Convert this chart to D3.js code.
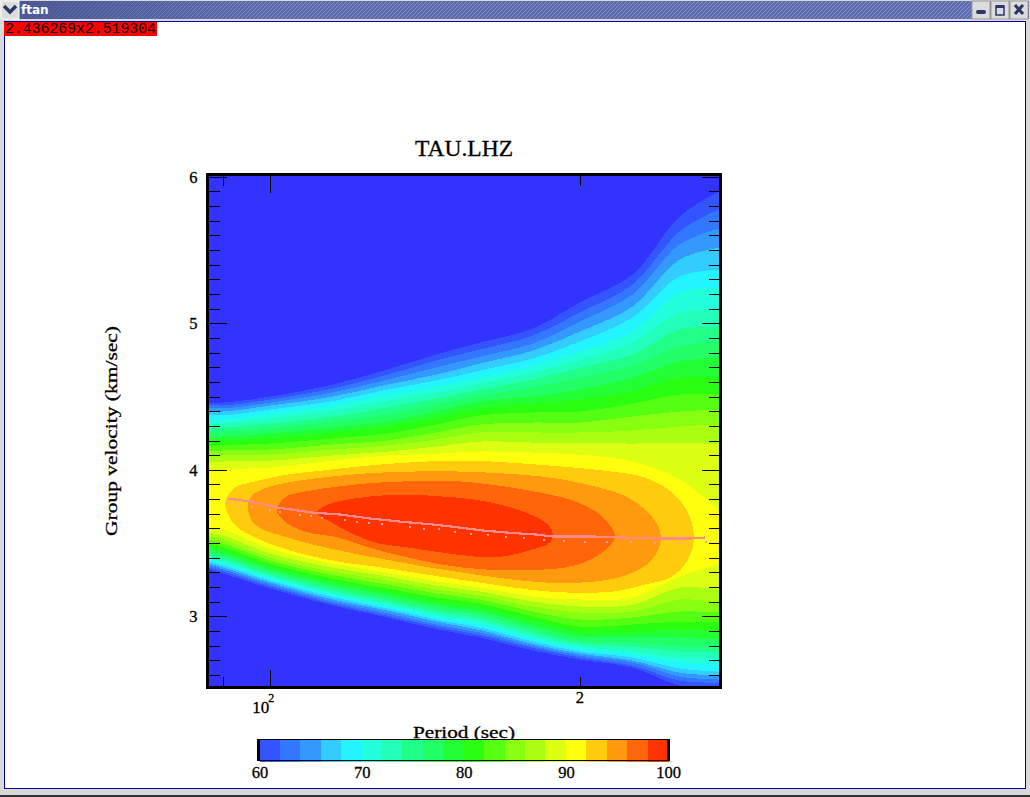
<!DOCTYPE html>
<html><head><meta charset="utf-8">
<style>html,body{margin:0;padding:0;background:#fff;overflow:hidden}svg{display:block}
text{font-family:"Liberation Serif",serif;fill:#000}</style>
<script src="https://cdn.jsdelivr.net/npm/d3@7"></script></head><body>
<script>
const titleText="TAU.LHZ", xLabel="Period (sec)", yLabel="Group velocity (km/sec)", windowTitle="ftan", readout="2.436269x2.519304";
const xDomain=[87.2,273], yDomain=[2.519304,6.0];
const xMinorTicks=[90,200], xMajorTicks=[100];
const yMajorTicks=[3,4,5,6];
const yMinorTicks=[2.6,2.7,2.8,2.9,3.1,3.2,3.3,3.4,3.5,3.6,3.7,3.8,3.9,4.1,4.2,4.3,4.4,4.5,4.6,4.7,4.8,4.9,5.1,5.2,5.3,5.4,5.5,5.6,5.7,5.8,5.9];
const levels=[60,62,64,66,68,70,72,74,76,78,80,82,84,86,88,90,92,94,96,98];
const levelColors=["#3355ff","#3377ff","#3399ff","#33ccff","#22f5ff","#22ffdd","#22ffbb","#22ff88","#22ff66","#22ff33","#2aff11","#55ff11","#88ff11","#aaff11","#ddff11","#ffff0d","#ffcc0d","#ff990d","#ff660a","#ff3300"];
const belowColor="#3333ff";
const colorbarTicks=[60,70,80,90,100];
// Contour columns: one row per period, one value per level 60..90
const columnPeriods=[87,90,100,115,130,145,160,180,200,225,250,273];
const upperEdges=[
[4.459,4.446,4.425,4.405,4.377,4.343,4.316,4.289,4.261,4.227,4.193,4.159,4.125,4.091,4.050,3.988],
[4.459,4.439,4.419,4.398,4.371,4.343,4.316,4.289,4.261,4.227,4.200,4.166,4.132,4.098,4.057,4.002],
[4.500,4.480,4.459,4.439,4.412,4.384,4.350,4.316,4.282,4.248,4.214,4.180,4.139,4.104,4.063,4.016],
[4.582,4.555,4.528,4.500,4.469,4.439,4.405,4.364,4.330,4.289,4.255,4.214,4.173,4.139,4.098,4.063],
[4.685,4.650,4.616,4.582,4.548,4.514,4.473,4.425,4.377,4.330,4.296,4.248,4.200,4.166,4.125,4.098],
[4.787,4.746,4.698,4.650,4.610,4.569,4.528,4.487,4.446,4.398,4.357,4.309,4.255,4.207,4.159,4.111],
[4.869,4.821,4.773,4.726,4.678,4.630,4.589,4.548,4.507,4.466,4.418,4.371,4.309,4.255,4.193,4.125],
[4.965,4.917,4.862,4.814,4.760,4.712,4.664,4.616,4.562,4.500,4.452,4.391,4.323,4.255,4.186,4.118],
[5.142,5.074,5.012,4.944,4.876,4.807,4.753,4.698,4.630,4.548,4.480,4.398,4.323,4.255,4.186,4.104],
[5.333,5.265,5.197,5.115,5.040,4.944,4.869,4.787,4.712,4.630,4.534,4.452,4.364,4.268,4.179,4.057],
[5.729,5.627,5.538,5.435,5.319,5.210,5.074,4.958,4.842,4.739,4.630,4.514,4.398,4.296,4.186,3.934],
[5.900,5.777,5.647,5.517,5.367,5.244,5.094,4.971,4.876,4.767,4.630,4.514,4.412,4.309,4.173,3.729]];
const lowerEdges=[
[3.320,3.333,3.347,3.360,3.374,3.388,3.401,3.415,3.432,3.452,3.476,3.500,3.524,3.548,3.572,3.606],
[3.292,3.306,3.320,3.333,3.347,3.360,3.374,3.391,3.408,3.429,3.449,3.473,3.497,3.524,3.552,3.593],
[3.190,3.204,3.217,3.231,3.245,3.258,3.272,3.285,3.302,3.320,3.340,3.360,3.381,3.401,3.429,3.463],
[3.074,3.087,3.101,3.115,3.132,3.145,3.159,3.176,3.197,3.217,3.238,3.258,3.282,3.306,3.333,3.360],
[2.992,3.005,3.022,3.040,3.053,3.070,3.084,3.101,3.121,3.145,3.169,3.190,3.217,3.244,3.272,3.299],
[2.913,2.930,2.944,2.964,2.978,2.995,3.012,3.033,3.053,3.077,3.101,3.128,3.156,3.183,3.210,3.238],
[2.855,2.872,2.889,2.906,2.923,2.944,2.964,2.985,3.009,3.033,3.060,3.087,3.115,3.142,3.169,3.197],
[2.767,2.784,2.797,2.811,2.828,2.845,2.862,2.886,2.910,2.937,2.968,2.999,3.033,3.067,3.101,3.135],
[2.705,2.719,2.732,2.746,2.760,2.780,2.794,2.815,2.835,2.862,2.896,2.930,2.978,3.026,3.067,3.115],
[2.650,2.664,2.685,2.698,2.719,2.739,2.760,2.794,2.821,2.862,2.896,2.944,2.992,3.033,3.080,3.128],
[2.527,2.561,2.589,2.616,2.644,2.685,2.719,2.760,2.801,2.855,2.910,2.964,3.033,3.115,3.196,3.272],
[2.500,2.548,2.569,2.596,2.623,2.671,2.719,2.753,2.801,2.842,2.896,2.958,3.026,3.094,3.183,3.354]];
// Closed contours 92..98 as period / velocity rings
const ring92P=[90.4,92.4,96.6,104.0,112.3,127.8,153.6,187.0,214.8,231.4,245.8,254.7,258.1,254.7,245.8,231.4,214.8,187.0,152.9,126.4,116.4,108.1,100.4,93.0,91.0];
const ring92V=[3.777,3.879,3.920,3.968,3.995,4.036,4.063,4.029,3.988,3.947,3.845,3.708,3.538,3.388,3.272,3.217,3.169,3.169,3.251,3.340,3.374,3.422,3.490,3.606,3.695];
const ring94P=[95.1,95.6,98.1,104.0,112.3,127.8,153.6,187.0,206.8,222.7,235.0,239.8,235.0,222.7,206.8,184.9,153.6,127.8,112.3,104.0,96.6];
const ring94V=[3.749,3.811,3.866,3.913,3.947,3.981,3.988,3.947,3.886,3.811,3.681,3.538,3.388,3.285,3.238,3.231,3.299,3.395,3.476,3.538,3.627];
const ring96P=[101.5,103.3,108.1,116.4,127.8,153.6,187.0,199.1,210.2,216.3,210.2,199.1,184.9,153.6,127.8,116.4,108.1,103.3];
const ring96V=[3.729,3.811,3.852,3.886,3.913,3.920,3.831,3.777,3.681,3.545,3.436,3.354,3.320,3.333,3.449,3.538,3.579,3.647];
const ring98P=[111.0,113.8,119.0,127.8,136.1,146.9,158.1,170.2,180.9,187.0,188.2,187.0,176.8,168.0,158.1,146.9,136.1,126.4,119.0,114.8];
const ring98V=[3.708,3.763,3.797,3.824,3.831,3.818,3.797,3.749,3.681,3.613,3.558,3.504,3.442,3.408,3.408,3.436,3.470,3.504,3.579,3.640];
// Measured dispersion curve and phase points
const curvePeriods=[91.0,95.6,101.5,110.0,116.9,125.0,133.7,143.9,152.9,161.0,169.8,181.7,188.2,205.9,220.2,243.0,255.8,264.6];
const curveVelocity=[3.804,3.784,3.743,3.708,3.695,3.668,3.647,3.627,3.606,3.586,3.572,3.558,3.545,3.545,3.538,3.531,3.531,3.538];
const dotPeriods=[91.0,92.6,96.0,99.9,102.2,106.9,109.5,112.3,118.2,121.4,124.7,128.4,136.7,141.1,145.9,151.2,156.7,162.8,169.5,176.5,184.5,193.0,202.3,212.5,224.2,236.5,250.1,265.2];
const dotVelocity=[3.777,3.770,3.749,3.729,3.715,3.695,3.688,3.674,3.661,3.647,3.640,3.627,3.613,3.599,3.593,3.579,3.565,3.558,3.545,3.538,3.524,3.517,3.510,3.510,3.510,3.504,3.504,3.510];

const W=1030,H=797;
const svg=d3.select("body").append("svg").attr("width",W).attr("height",H);

/* window chrome */
const defs=svg.append("defs");
const pat=defs.append("pattern").attr("id","hatch").attr("width",4).attr("height",4).attr("patternUnits","userSpaceOnUse");
pat.append("rect").attr("width",4).attr("height",4).attr("fill","#5c6bae");
pat.append("path").attr("d","M-1,1L1,-1M0,4L4,0M3,5L5,3").attr("stroke","#8b97c8").attr("stroke-width",1);
const grad=defs.append("linearGradient").attr("id","fade");
grad.append("stop").attr("offset",0).attr("stop-color","#46558f").attr("stop-opacity",.9);
grad.append("stop").attr("offset",.25).attr("stop-color","#46558f").attr("stop-opacity",.1);
grad.append("stop").attr("offset",1).attr("stop-color","#46558f").attr("stop-opacity",0);
svg.append("rect").attr("width",W).attr("height",H).attr("fill","#d9d9d9");
svg.append("rect").attr("x",1).attr("y",1).attr("width",1028).attr("height",18).attr("fill","url(#hatch)");
svg.append("rect").attr("x",1).attr("y",1).attr("width",1028).attr("height",18).attr("fill","url(#fade)");
svg.append("rect").attr("x",4.5).attr("y",21.5).attr("width",1021).attr("height",767).attr("fill","#fff").attr("stroke","#0000a0");
svg.append("rect").attr("x",0).attr("y",795).attr("width",W).attr("height",2).attr("fill","#333");
svg.append("rect").attr("x",1).attr("y",1).attr("width",18).attr("height",18).attr("fill","#dcdcdc").attr("stroke","#fff");
svg.append("path").attr("d","M4,6L10,12L16,6").attr("fill","none").attr("stroke","#2b3566").attr("stroke-width",3.4);
svg.append("text").attr("x",21).attr("y",14).text(windowTitle).style("font-family","'DejaVu Sans',sans-serif").style("font-weight","bold").style("font-size","12px").style("fill","#fff");
[972,991,1010].forEach(x=>svg.append("rect").attr("x",x).attr("y",1).attr("width",18).attr("height",18).attr("fill","#dcdcdc").attr("stroke","#999"));
svg.append("rect").attr("x",976).attr("y",10).attr("width",10).attr("height",4).attr("rx",2).attr("fill","#2b3566");
svg.append("rect").attr("x",996).attr("y",6).attr("width",8).attr("height",9).attr("fill","none").attr("stroke","#2b3566").attr("stroke-width",1.5);
svg.append("rect").attr("x",996).attr("y",5).attr("width",8).attr("height",3).attr("fill","#2b3566");
svg.append("path").attr("d","M1015,5L1023,14M1023,5L1015,14").attr("stroke","#2b3566").attr("stroke-width",3);

svg.append("rect").attr("x",4).attr("y",22).attr("width",153).attr("height",14).attr("fill","#ff0000");
svg.append("text").attr("x",5).attr("y",33).attr("textLength",151).attr("lengthAdjust","spacingAndGlyphs").text(readout).style("font-family","'Liberation Mono',monospace").style("font-size","15px");

/* plot */
const L=209,R=719,T=176.8,B=686.8;
const x=d3.scaleLog().domain(xDomain).range([L,R]);
const y=d3.scaleLinear().domain(yDomain).range([B,T]);
defs.append("clipPath").attr("id","plotClip").append("rect").attr("x",L-1).attr("y",T-2).attr("width",R-L+2).attr("height",B-T+2);
const plot=svg.append("g").attr("clip-path","url(#plotClip)").attr("shape-rendering","crispEdges");
plot.append("rect").attr("x",L-1).attr("y",T-2).attr("width",R-L+2).attr("height",B-T+2).attr("fill",belowColor);

const area=d3.area().curve(d3.curveCatmullRom.alpha(0.5));
d3.range(16).forEach(k=>{
  const row=columnPeriods.map((p,i)=>({p,u:upperEdges[i][k],l:lowerEdges[i][k]}));
  plot.append("path").attr("fill",levelColors[k])
    .attr("d",area.x(d=>x(d.p)).y0(d=>y(d.l)).y1(d=>y(d.u))(row));
});
const ring=d3.line().curve(d3.curveCatmullRomClosed.alpha(0.5)).x(d=>x(d[0])).y(d=>y(d[1]));
[[ring92P,ring92V],[ring94P,ring94V],[ring96P,ring96V],[ring98P,ring98V]].forEach(([ps,vs],i)=>{
  plot.append("path").attr("fill",levelColors[16+i]).attr("d",ring(ps.map((p,j)=>[p,vs[j]])));
});
plot.append("path").attr("fill","none").attr("stroke","#ff8a8a").attr("stroke-width",2.2)
  .attr("d",d3.line().x((d,i)=>x(d)).y((d,i)=>y(curveVelocity[i]))(curvePeriods));
plot.selectAll("rect.dot").data(dotPeriods).join("rect").attr("class","dot")
  .attr("x",d=>Math.round(x(d))-1).attr("y",(d,i)=>Math.round(y(dotVelocity[i]))-1).attr("width",2).attr("height",2).attr("fill","#ffa0a0");

/* axes */
function tidy(g){g.select(".domain").remove();g.selectAll("line").attr("stroke","#000").attr("stroke-width",1).attr("shape-rendering","crispEdges");g.selectAll("text").style("font-family","'Liberation Serif',serif").style("font-size","16.5px").style("fill","#000").style("stroke","#000").style("stroke-width","0.3px");}
const fmtNone=()=>"";
svg.append("g").attr("transform",`translate(${L-0.5},0)`).call(d3.axisLeft(y).tickValues(yMinorTicks).tickSize(-11).tickFormat(fmtNone)).call(tidy);
svg.append("g").attr("transform",`translate(${L-0.5},0)`).call(d3.axisLeft(y).tickValues(yMajorTicks).tickSize(-18).tickPadding(11).tickFormat(d3.format("d"))).call(tidy);
svg.append("g").attr("transform",`translate(${R+0.5},0)`).call(d3.axisRight(y).tickValues(yMinorTicks).tickSize(-11).tickFormat(fmtNone)).call(tidy);
svg.append("g").attr("transform",`translate(${R+0.5},0)`).call(d3.axisRight(y).tickValues(yMajorTicks).tickSize(-18).tickFormat(fmtNone)).call(tidy);
svg.append("g").attr("transform",`translate(0,${B})`).call(d3.axisBottom(x).tickValues(xMinorTicks).tickSize(-10).tickFormat(fmtNone)).call(tidy);
svg.append("g").attr("transform",`translate(0,${B})`).call(d3.axisBottom(x).tickValues(xMajorTicks).tickSize(-17).tickFormat(fmtNone)).call(tidy);
svg.append("g").attr("transform",`translate(0,${T-1})`).call(d3.axisTop(x).tickValues(xMinorTicks).tickSize(-10).tickFormat(fmtNone)).call(tidy);
svg.append("g").attr("transform",`translate(0,${T-1})`).call(d3.axisTop(x).tickValues(xMajorTicks).tickSize(-17).tickFormat(fmtNone)).call(tidy);
svg.append("rect").attr("x",207.5).attr("y",174.5).attr("width",513).attr("height",513).attr("fill","none").attr("stroke","#000").attr("stroke-width",3).attr("shape-rendering","crispEdges");

const t=(px,py,s,size,len)=>{const e=svg.append("text").attr("x",px).attr("y",py).text(s).style("font-size",size+"px").style("stroke","#000").style("stroke-width","0.3px");if(len)e.attr("textLength",len).attr("lengthAdjust","spacingAndGlyphs");return e;};
t(x(100)-18,713,"10",16.5,17);
t(x(100)-2,702,"2",12);
t(x(200),703,"2",16.5).attr("text-anchor","middle");
t(415,156,titleText,23,98);
t(413,738,xLabel,17,102);
svg.append("text").attr("transform","translate(117,536) rotate(-90)").attr("textLength",210).attr("lengthAdjust","spacingAndGlyphs").text(yLabel).style("font-size","17px").style("stroke","#000").style("stroke-width","0.3px");

/* colour bar */
const cb=d3.scaleLinear().domain([60,100]).range([259.5,668]);
const cbg=svg.append("g").attr("shape-rendering","crispEdges");
cbg.selectAll("rect").data(levels).join("rect").attr("x",d=>cb(d)).attr("y",740).attr("width",d=>cb(d+2)-cb(d)+0.5).attr("height",21.5).attr("fill",(d,i)=>levelColors[i]);
cbg.append("line").attr("x1",258).attr("x2",670).attr("y1",739.5).attr("y2",739.5).attr("stroke","#000");
cbg.append("line").attr("x1",258).attr("x2",670).attr("y1",760.5).attr("y2",760.5).attr("stroke","#000");
cbg.append("rect").attr("x",257).attr("y",739).attr("width",3).attr("height",22).attr("fill","#000");
cbg.append("rect").attr("x",667).attr("y",739).attr("width",3).attr("height",22).attr("fill","#000");
svg.append("g").attr("transform","translate(0,761)").call(d3.axisBottom(cb).tickValues(colorbarTicks).tickSize(0).tickPadding(5).tickFormat(d3.format("d"))).call(tidy);
</script></body></html>
